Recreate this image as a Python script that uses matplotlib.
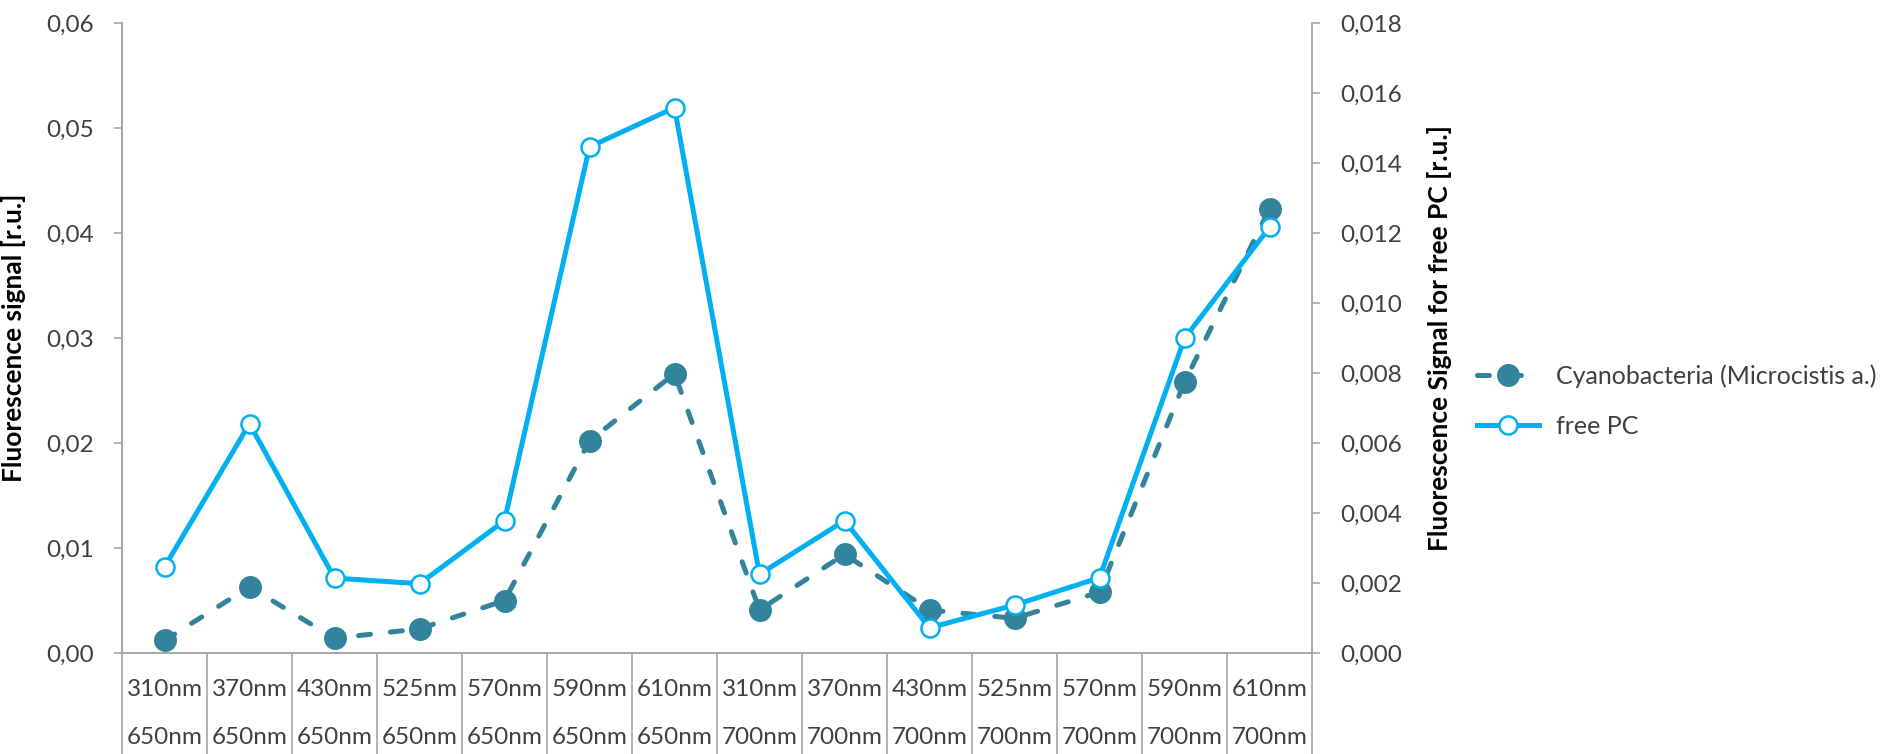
import matplotlib
matplotlib.use("Agg")
from matplotlib import pyplot as plt
from matplotlib.ticker import FuncFormatter

plt.rcParams['font.family'] = ['Lato', 'DejaVu Sans']

# excitation / emission wavelength pairs
excitation = ["310nm", "370nm", "430nm", "525nm", "570nm", "590nm", "610nm",
              "310nm", "370nm", "430nm", "525nm", "570nm", "590nm", "610nm"]
emission = ["650nm"] * 7 + ["700nm"] * 7

cyano = [0.0012, 0.0063, 0.0014, 0.0023, 0.0050, 0.0202, 0.0266,
         0.0041, 0.0094, 0.0041, 0.0033, 0.0058, 0.0258, 0.0423]
free_pc = [0.00246, 0.00655, 0.00214, 0.00198, 0.00378, 0.01446, 0.01558,
           0.00225, 0.00378, 0.00072, 0.00137, 0.00215, 0.00899, 0.01216]

CYAN_DARK = "#31849B"
CYAN_LIGHT = "#00B0F0"
GRAY = "#A6A6A6"
TXT = "#404040"
FS = 17.5

W, H = 1883, 754
x0, x1, ytop, y0 = 122, 1312, 23, 653  # plot box in pixels

fig = plt.figure(figsize=(W / 100, H / 100), dpi=100)
ax = fig.add_axes([x0 / W, 1 - y0 / H, (x1 - x0) / W, (y0 - ytop) / H])
ax2 = ax.twinx()

xs = list(range(len(cyano)))
l1, = ax.plot(xs, cyano, color=CYAN_DARK, lw=3.6, ls=(0, (2.4, 4.0)),
              dash_capstyle='round', marker='o', ms=15.5, mfc=CYAN_DARK,
              mec=CYAN_DARK, label="Cyanobacteria (Microcistis a.)", zorder=3)
l2, = ax2.plot(xs, free_pc, color=CYAN_LIGHT, lw=3.6, marker='o', ms=13,
               mfc='white', mec=CYAN_LIGHT, mew=1.8, label="free PC", zorder=4)

ax.set_xlim(-0.5, len(xs) - 0.5)
ax.set_ylim(0, 0.06)
ax2.set_ylim(0, 0.018)
ax.set_yticks([0, 0.01, 0.02, 0.03, 0.04, 0.05, 0.06])
ax2.set_yticks([0.002 * i for i in range(10)])
ax.yaxis.set_major_formatter(FuncFormatter(lambda v, p: ("%.2f" % v).replace(".", ",")))
ax2.yaxis.set_major_formatter(FuncFormatter(lambda v, p: ("%.3f" % v).replace(".", ",")))

for a in (ax, ax2):
    a.spines['top'].set_visible(False)
    for s in ('left', 'right', 'bottom'):
        a.spines[s].set_color(GRAY)
        a.spines[s].set_linewidth(1.2)
    a.tick_params(axis='y', length=6, width=1.2, color=GRAY, labelsize=FS,
                  labelcolor=TXT, pad=14, direction='out')
    a.set_xticks([])

ax.set_ylabel("Fluorescence signal [r.u.]", fontsize=19, fontweight='bold', color='black')
ax.yaxis.set_label_coords(-0.081, 0.5)
ax2.set_ylabel("Fluorescence Signal for free PC [r.u.]", fontsize=19,
               fontweight='bold', color='black')
ax2.yaxis.set_label_coords(1.097, 0.5)

# category table below the axis
trans = ax.get_xaxis_transform()
bottom = -(H - y0) / (y0 - ytop)
for k in range(len(xs) + 1):
    ax.plot([k - 0.5, k - 0.5], [0, bottom], transform=trans, color=GRAY,
            lw=1.2, clip_on=False)
row1 = -(689 - y0) / (y0 - ytop)
row2 = -(738 - y0) / (y0 - ytop)
for i, (e, m) in enumerate(zip(excitation, emission)):
    ax.text(i, row1, e, transform=trans, ha='center', va='center', fontsize=FS, color=TXT)
    ax.text(i, row2, m, transform=trans, ha='center', va='center', fontsize=FS, color=TXT)

fig.legend(handles=[l1, l2], loc='center left', bbox_to_anchor=(1477 / W, 1 - 401 / H),
           frameon=False, fontsize=18, handlelength=2.5, handletextpad=0.65,
           labelspacing=1.1, borderpad=0, borderaxespad=0, labelcolor=TXT)

fig.savefig("out.png", dpi=100)
